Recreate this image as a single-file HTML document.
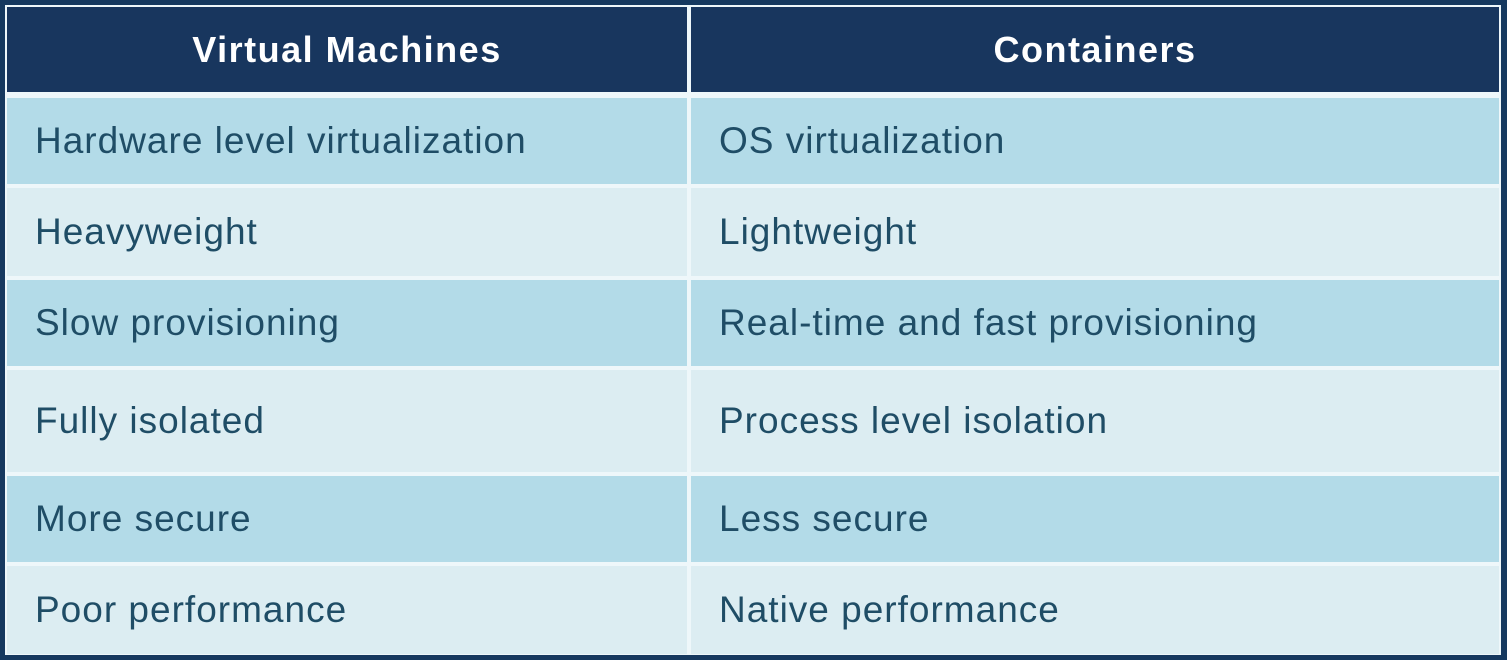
<!DOCTYPE html>
<html><head><style>
body{margin:0;width:1507px;height:660px;background:#16395f;position:relative;overflow:hidden;font-family:"Liberation Sans",sans-serif}
.c{position:absolute;box-sizing:border-box;display:flex;align-items:center;font-size:37px;letter-spacing:1px;color:#1f4d66;padding-left:28px}
.h{background:#18365e;color:#fff;font-weight:bold;justify-content:center;padding:0;font-size:36px;letter-spacing:1.5px}
.d{background:#b3dbe8}.l{background:#dcedf2}
#bg{position:absolute;left:5px;top:5px;width:1496px;height:650px;background:#eef7fa}
</style></head><body>
<div id="bg"></div>
<div class="c h" style="left:7px;top:7px;width:680px;height:85px">Virtual Machines</div>
<div class="c h" style="left:691px;top:7px;width:808px;height:85px">Containers</div>

<div class="c d" style="left:7px;top:98px;width:680px;height:86px">Hardware level virtualization</div>
<div class="c d" style="left:691px;top:98px;width:808px;height:86px">OS virtualization</div>

<div class="c l" style="left:7px;top:188px;width:680px;height:88px">Heavyweight</div>
<div class="c l" style="left:691px;top:188px;width:808px;height:88px">Lightweight</div>

<div class="c d" style="left:7px;top:280px;width:680px;height:86px">Slow provisioning</div>
<div class="c d" style="left:691px;top:280px;width:808px;height:86px">Real-time and fast provisioning</div>

<div class="c l" style="left:7px;top:370px;width:680px;height:102px">Fully isolated</div>
<div class="c l" style="left:691px;top:370px;width:808px;height:102px">Process level isolation</div>

<div class="c d" style="left:7px;top:476px;width:680px;height:86px">More secure</div>
<div class="c d" style="left:691px;top:476px;width:808px;height:86px">Less secure</div>

<div class="c l" style="left:7px;top:566px;width:680px;height:88px">Poor performance</div>
<div class="c l" style="left:691px;top:566px;width:808px;height:88px">Native performance</div>
</body></html>
